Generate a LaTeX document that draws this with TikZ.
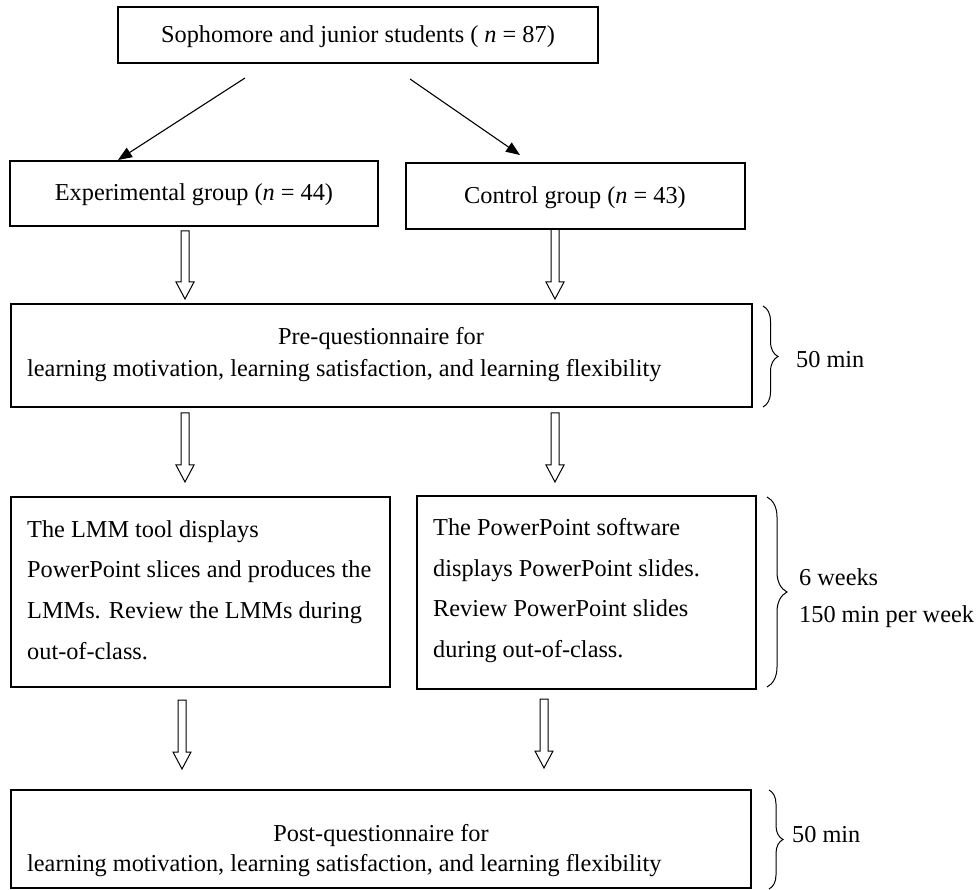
\documentclass[tikz,border=0pt]{standalone}
\usepackage{fontspec}
\setmainfont{Liberation Serif}
\usetikzlibrary{arrows.meta,decorations.pathreplacing,calc}
\newcommand\hollowarrow[2]{\draw[line width=1pt, line join=miter] let \p1=(#1), \p2=(#2) in
  (\x1-4pt,\y1) -- (\x1+4pt,\y1) -- (\x1+4pt,\y2+17pt) -- (\x1+9pt,\y2+17pt) -- (\x1,\y2)
  -- (\x1-9pt,\y2+17pt) -- (\x1-4pt,\y2+17pt) -- cycle;}
\begin{document}
\begin{tikzpicture}[x=1pt,y=-1pt,
  box/.style={draw, line width=1.1pt, inner sep=0pt, rectangle},
  txt/.style={inner sep=0pt, font=\fontsize{24.3}{30}\selectfont},
  thinarrow/.style={line width=1.1pt, -{Triangle[length=14pt,width=11pt]}},
  timebrace/.style={decorate, line width=1pt, decoration={brace, amplitude=#1}},
]
\useasboundingbox (0,0) rectangle (978,890);

% boxes
\node[box, minimum width=480pt, minimum height=56pt] (top) at (358,35) {};
\node[txt, anchor=base] (toptxt) at (358,43) {Sophomore and junior students ( \textit{n} = 87)};

\node[box, minimum width=368pt, minimum height=65pt] (exp) at (194,193.5) {};
\node[txt, anchor=base] (exptxt) at (194,201) {Experimental group (\textit{n} = 44)};

\node[box, minimum width=339pt, minimum height=66pt] (ctl) at (575.5,196) {};
\node[txt, anchor=base] (ctltxt) at (575,204) {Control group (\textit{n} = 43)};

\node[box, minimum width=741pt, minimum height=103pt] (pre) at (381.5,355.5) {};
\node[txt, anchor=base] (pretxt1) at (381,345) {Pre-questionnaire for};
\node[txt, anchor=base west] (pretxt2) at (27,377) {learning motivation, learning satisfaction, and learning flexibility};

\node[box, minimum width=379pt, minimum height=190pt] (lmm) at (200.5,592) {};
\node[txt, anchor=base west] (lmmtxt) at (27,537) {\parbox[t]{360pt}{\raggedright\fontsize{24.3}{40.7}\selectfont
  The LMM tool displays\\
  PowerPoint slices and produces the\\
  LMMs. Review the LMMs during\\
  out-of-class.}};

\node[box, minimum width=339pt, minimum height=193pt] (ppt) at (586.5,592.5) {};
\node[txt, anchor=base west] (ppttxt) at (433,536) {\parbox[t]{320pt}{\raggedright\fontsize{24.3}{40.5}\selectfont
  The PowerPoint software\\
  displays PowerPoint slides.\\
  Review PowerPoint slides\\
  during out-of-class.}};

\node[box, minimum width=740pt, minimum height=98pt] (post) at (381,839) {};
\node[txt, anchor=base] (posttxt1) at (381,841) {Post-questionnaire for};
\node[txt, anchor=base west] (posttxt2) at (27,871) {learning motivation, learning satisfaction, and learning flexibility};

% diagonal arrows
\coordinate (d1s) at (245,78);
\coordinate (d1e) at (118,160);
\coordinate (d2s) at (410,79);
\coordinate (d2e) at (520,155);
\draw[thinarrow] (d1s) -- (d1e);
\draw[thinarrow] (d2s) -- (d2e);

% hollow arrows
\coordinate (h1s) at (185,231); \coordinate (h1e) at (185,299);
\coordinate (h2s) at (555,229); \coordinate (h2e) at (555,299);
\coordinate (h3s) at (185,413); \coordinate (h3e) at (185,482);
\coordinate (h4s) at (555,413); \coordinate (h4e) at (555,482);
\coordinate (h5s) at (182,700); \coordinate (h5e) at (182,769);
\coordinate (h6s) at (544,699); \coordinate (h6e) at (544,768);
\hollowarrow{h1s}{h1e}
\hollowarrow{h2s}{h2e}
\hollowarrow{h3s}{h3e}
\hollowarrow{h4s}{h4e}
\hollowarrow{h5s}{h5e}
\hollowarrow{h6s}{h6e}

% braces
\coordinate (b1s) at (763,306); \coordinate (b1e) at (763,407);
\coordinate (b2s) at (767,497); \coordinate (b2e) at (767,687);
\coordinate (b3s) at (769,790); \coordinate (b3e) at (769,889);
\draw[timebrace=15pt] (b1s) -- (b1e);
\draw[timebrace=20pt] (b2s) -- (b2e);
\draw[timebrace=14pt] (b3s) -- (b3e);
\node[txt, anchor=base west] (t1) at (796,368) {50 min};
\node[txt, anchor=base west] (t2) at (799,585) {6 weeks};
\node[txt, anchor=base west] (t3) at (799,622) {150 min per week};
\node[txt, anchor=base west] (t4) at (792,842) {50 min};
\end{tikzpicture}
\end{document}
